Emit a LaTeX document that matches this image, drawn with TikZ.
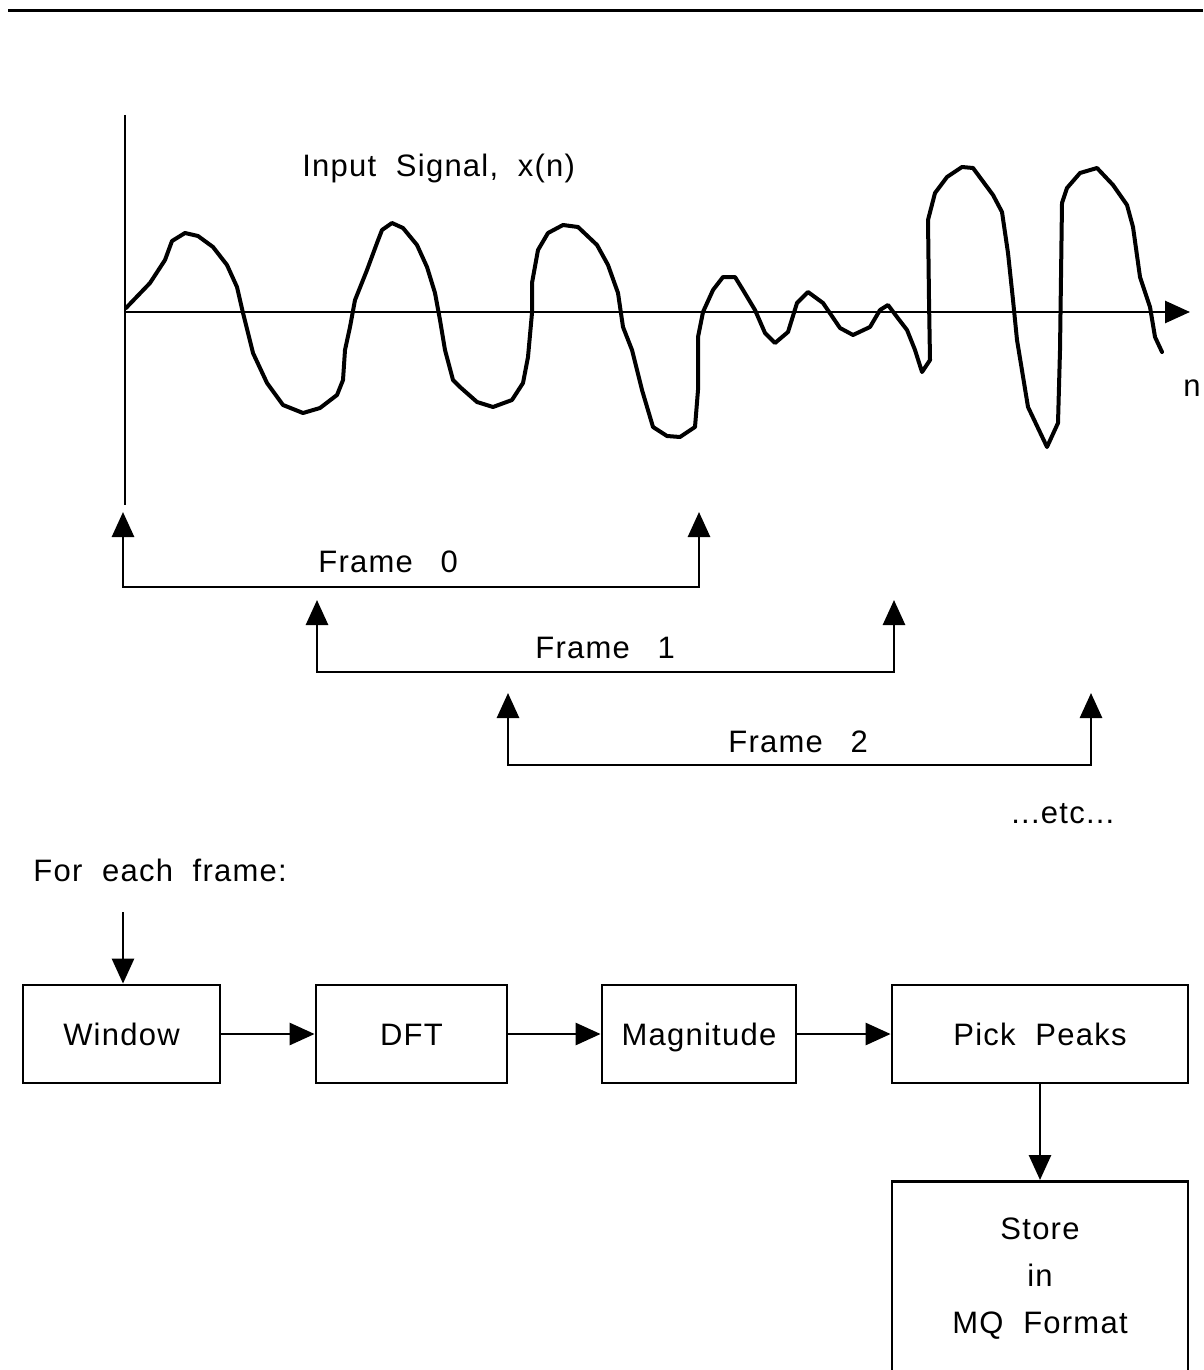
\documentclass[tikz,border=0pt]{standalone}
\usepackage{fontspec}
\setmainfont{Liberation Sans}[LetterSpace=4,WordSpace=2]
\usetikzlibrary{arrows.meta}
\begin{document}
\begin{tikzpicture}[x=1pt,y=-1pt,
  font=\fontsize{31}{47}\selectfont,
  line width=2.8pt,
  >={Triangle[length=25pt,width=22pt]},
  box/.style={draw, line width=2.8pt, inner sep=0pt, text height=22pt, text depth=0pt, minimum height=98pt},
  lbl/.style={inner sep=0pt, anchor=base west},
  sig/.style={line width=4pt, line join=round, line cap=round}]
\useasboundingbox (0,0) rectangle (1203,1370);
% top rule
\draw[line width=3pt] (8,11) -- (1203,11);
% axes
\coordinate (ytop) at (125,115);
\coordinate (ybot) at (125,505);
\coordinate (xorg) at (125,312);
\coordinate (xend) at (1190,312);
\draw (ytop) -- (ybot);
\draw[->] (xorg) -- (xend);
% signal
\draw[sig] plot coordinates {
(126,308) (150,283) (165,260) (172,241) (185,233) (198,236) (213,247) (227,265)
(237,287) (243,313) (253,353) (267,383) (283,405) (303,413) (320,408) (337,395)
(343,380) (345,350) (350,327) (355,300) (367,270) (377,243) (382,230) (392,223)
(403,228) (417,245) (427,267) (435,293) (440,320) (445,350) (453,380) (460,387)
(477,402) (493,407) (512,400) (523,383) (528,357) (532,313) (532,283) (538,250)
(548,233) (563,225) (578,227) (597,245) (608,265) (618,293) (623,327) (632,350)
(642,390) (653,427) (667,436) (680,437) (695,427) (698,390) (698,337) (703,312)
(713,290) (723,277) (735,277) (743,290) (755,310) (765,333) (775,343) (788,332)
(797,303) (808,292) (823,303) (840,328) (853,335) (870,327) (880,310) (888,305)
(897,317) (907,330) (915,350) (922,372) (930,360) (929,300) (928,220) (935,193)
(947,177) (962,167) (973,168) (993,195) (1002,212) (1008,253) (1013,300) (1017,340)
(1028,407) (1047,447) (1058,423) (1060,350) (1062,203) (1067,188) (1080,173) (1097,168)
(1113,185) (1127,205) (1133,227) (1140,277) (1150,307) (1155,337) (1162,352)};
% labels
\node[lbl] (title) at (301,176) {Input Signal, x(n)};
\node[lbl] (nlab) at (1182,396) {n};
% frames
\coordinate (f0a) at (123,512); \coordinate (f0l) at (123,587);
\coordinate (f0r) at (699,587); \coordinate (f0b) at (699,512);
\draw[<->] (f0a) -- (f0l) -- (f0r) -- (f0b);
\coordinate (f1a) at (317,600); \coordinate (f1l) at (317,672);
\coordinate (f1r) at (894,672); \coordinate (f1b) at (894,600);
\draw[<->] (f1a) -- (f1l) -- (f1r) -- (f1b);
\coordinate (f2a) at (508,693); \coordinate (f2l) at (508,765);
\coordinate (f2r) at (1091,765); \coordinate (f2b) at (1091,693);
\draw[<->] (f2a) -- (f2l) -- (f2r) -- (f2b);
\node[lbl] (fr0) at (317,572) {Frame\hspace{8pt} 0};
\node[lbl] (fr1) at (534,658) {Frame\hspace{8pt} 1};
\node[lbl] (fr2) at (727,752) {Frame\hspace{8pt} 2};
\node[lbl] (etc) at (1010,823) {...etc...};
\node[lbl] (each) at (32,881) {For each frame:};
% blocks
\node[box, minimum width=197pt] (win) at (121.5,1034) {Window};
\node[box, minimum width=191pt] (dft) at (411.5,1034) {DFT};
\node[box, minimum width=194pt] (mag) at (699,1034) {Magnitude};
\node[box, minimum width=296pt] (pick) at (1040,1034) {Pick Peaks};
\node[draw, line width=2.8pt, inner sep=0pt, minimum width=296pt, minimum height=210pt, anchor=north] (store) at (1040,1180) {};
\node[align=center, inner sep=0pt] (storetxt) at (1040,1279) {Store\\in\\MQ Format};
% connectors
\coordinate (in) at (123,912);
\draw[->] (in) -- (in |- win.north);
\draw[->] (win) -- (dft);
\draw[->] (dft) -- (mag);
\draw[->] (mag) -- (pick);
\draw[->] (pick) -- (store);
\end{tikzpicture}
\end{document}
